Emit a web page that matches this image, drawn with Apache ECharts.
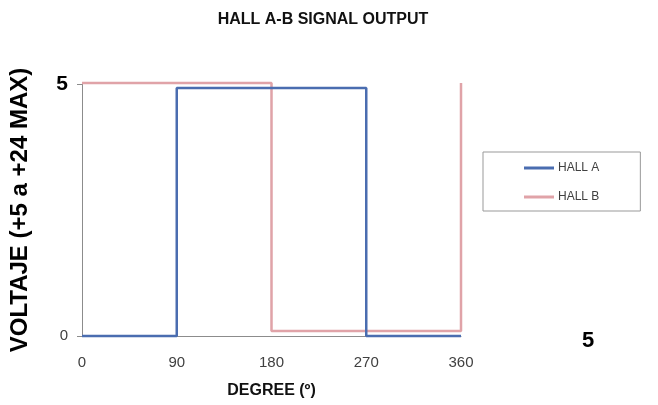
<!DOCTYPE html>
<html>
<head>
<meta charset="utf-8">
<script src="https://cdn.jsdelivr.net/npm/echarts@6/dist/echarts.min.js"></script>
<style>
html,body{margin:0;padding:0;background:#fff;}
#chart{width:658px;height:405px;}
</style>
</head>
<body>
<div id="chart"></div>
<script>
const titleText = 'HALL A-B SIGNAL OUTPUT';
const xName = 'DEGREE (º)';
const yName = 'VOLTAJE (+5 a +24 MAX)';
const xTicks = [0, 90, 180, 270, 360];
const yTicks = [0, 5];
const hallADeg = [0, 90, 90, 270, 270, 360];
const hallAVolt = [0, 0, 4.92, 4.92, 0, 0];
const hallBDeg = [0, 180, 180, 360, 360];
const hallBVolt = [5.02, 5.02, 0.1, 0.1, 5.02];
const seriesNames = ['HALL A', 'HALL B'];
const cornerText = '5';

const FONT = '"Liberation Sans", Arial, sans-serif';
const chart = echarts.init(document.getElementById('chart'), null, {renderer: 'canvas'});
const zip = (xs, ys) => xs.map((x, i) => [x, ys[i]]);

chart.setOption({
  backgroundColor: '#fff',
  animation: false,
  title: {
    text: titleText, left: 318, top: 7, textAlign: 'center',
    textStyle: {fontFamily: FONT, fontWeight: 'bold', fontSize: 16, color: '#111'}
  },
  grid: {left: 81, right: 197, top: 84, bottom: 69},
  legend: {
    orient: 'vertical', left: 483, top: 152,
    padding: [9, 41, 7, 41], itemGap: 15,
    borderColor: '#999', borderWidth: 1,
    itemWidth: 30, itemHeight: 3, icon: 'rect',
    textStyle: {fontFamily: FONT, fontSize: 12, color: '#404040', lineHeight: 14, padding: [0, 0, 0, -1]},
    data: seriesNames
  },
  xAxis: {
    type: 'value', min: 0, max: 360, interval: 90,
    name: xName, nameLocation: 'middle', nameGap: 47,
    nameTextStyle: {fontFamily: FONT, fontWeight: 'bold', fontSize: 16, color: '#111'},
    axisLine: {show: true, lineStyle: {color: '#8c8c8c', width: 1}},
    axisTick: {show: false},
    splitLine: {show: false},
    axisLabel: {margin: 19, fontFamily: FONT, fontSize: 15, color: '#404040',
      formatter: v => xTicks.includes(v) ? String(v) : ''}
  },
  yAxis: {
    type: 'value', min: 0, max: 5, interval: 5,
    name: yName, nameLocation: 'middle', nameGap: 50, nameRotate: 90,
    nameTextStyle: {fontFamily: FONT, fontWeight: 'bold', fontSize: 24, color: '#000'},
    axisLine: {show: true, lineStyle: {color: '#8c8c8c', width: 1}},
    axisTick: {show: true, length: 5, lineStyle: {color: '#8c8c8c'}},
    splitLine: {show: false},
    axisLabel: {margin: 14, formatter: v => yTicks.includes(v) ? (v === 5 ? '{b|' + v + '}' : '{n|' + v + '}') : '',
      rich: {
        b: {fontFamily: FONT, fontWeight: 'bold', fontSize: 21, color: '#000'},
        n: {fontFamily: FONT, fontSize: 15, color: '#404040'}
      }}
  },
  series: [
    {name: seriesNames[0], type: 'line', data: zip(hallADeg, hallAVolt), showSymbol: false, clip: false,
      color: '#4a6db0', lineStyle: {color: '#4a6db0', width: 2.5}, z: 3},
    {name: seriesNames[1], type: 'line', data: zip(hallBDeg, hallBVolt), showSymbol: false, clip: false,
      color: '#e0a3a8', lineStyle: {color: '#e0a3a8', width: 2.5}, z: 2}
  ],
  graphic: [
    {type: 'text', left: 582, top: 330,
      style: {text: cornerText, fontFamily: FONT, fontWeight: 'bold', fontSize: 22, fill: '#000'}}
  ]
});
</script>
</body>
</html>
